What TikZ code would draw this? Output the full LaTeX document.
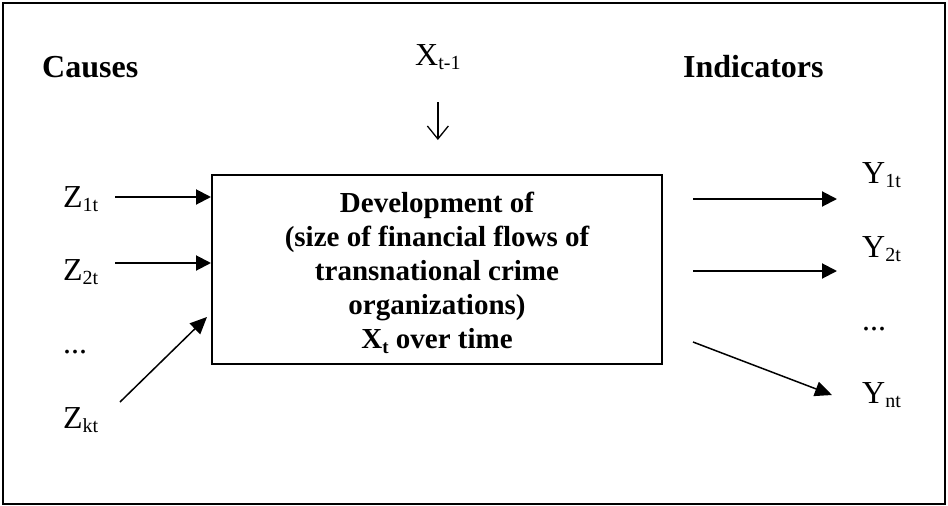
\documentclass[tikz,border=0pt]{standalone}
\usepackage{fontspec}
\setmainfont{Liberation Serif}
\usetikzlibrary{arrows.meta}
\usetikzlibrary{calc}
\tikzset{
    flow/.style={-{Triangle[length=15pt, width=15pt]}, line width=2pt},
    slant flow/.style={-{Triangle[length=17pt, width=15pt]}, line width=1.5pt},
    lbl/.style={inner sep=0pt, anchor=base west, font=\fontsize{32}{38}\selectfont},
    head/.style={inner sep=0pt, anchor=base west, font=\bfseries\fontsize{32}{38}\selectfont},
    procbox/.style={draw, line width=2pt, minimum width=450pt, minimum height=189pt,
        align=center, inner sep=0pt, font=\bfseries\fontsize{29}{34}\selectfont},
}
\newcommand\idx[1]{\raisebox{-4pt}{\fontsize{20}{20}\selectfont #1}}

\begin{document}
\begin{tikzpicture}[x=1pt, y=-1pt]

    \useasboundingbox (0,0) rectangle (948,506);
    \draw[line width=2pt] (3,3) rectangle (945,504);

    \node[head] (causes) at (42,77) {Causes};
    \node[head] (indic) at (683,77) {Indicators};
    \node[lbl] (xprev) at (415,65) {X\idx{t-1}};

    \node[procbox] (box) at (437,269.5) {\rule{0pt}{28pt}Development of\\
        (size of financial flows of\\
        transnational crime\\
        organizations)\\
        X\raisebox{-5pt}{\fontsize{19}{19}\selectfont t} over time};

    % causes on the left
    \node[lbl] (z1) at (63,207) {Z\idx{1t}};
    \node[lbl] (z2) at (63,280) {Z\idx{2t}};
    \node[lbl] (zdots) at (63,353) {...};
    \node[lbl] (zk) at (63,428) {Z\idx{kt}};

    % indicators on the right
    \node[lbl] (y1) at (862,183) {Y\idx{1t}};
    \node[lbl] (y2) at (862,257) {Y\idx{2t}};
    \node[lbl] (ydots) at (862,330) {...};
    \node[lbl] (yn) at (862,403) {Y\idx{nt}};

    % lagged state
    \coordinate (lagA) at ($(xprev.base)+(0,37)$);
    \coordinate (lagB) at ($(lagA)+(0,38)$);
    \draw[-{Straight Barb[length=13pt, width=21pt]}, line width=1.3pt] (lagA) -- (lagB);

    \foreach \I/\Y in {1/197, 2/263}{
        \coordinate (s\I) at (115,\Y);
        \draw[flow] (s\I) -- (s\I -| box.west);
    }
    \coordinate (sk) at (120,402);
    \coordinate (ek) at (207,317);
    \draw[slant flow] (sk) -- (ek);

    \foreach \I/\Y in {1/199, 2/271}{
        \coordinate (r\I) at (693,\Y);
        \coordinate (t\I) at (837,\Y);
        \draw[flow] (r\I) -- (t\I);
    }
    \coordinate (rn) at (693,342);
    \coordinate (tn) at (832,395);
    \draw[slant flow] (rn) -- (tn);

\end{tikzpicture}
\end{document}
